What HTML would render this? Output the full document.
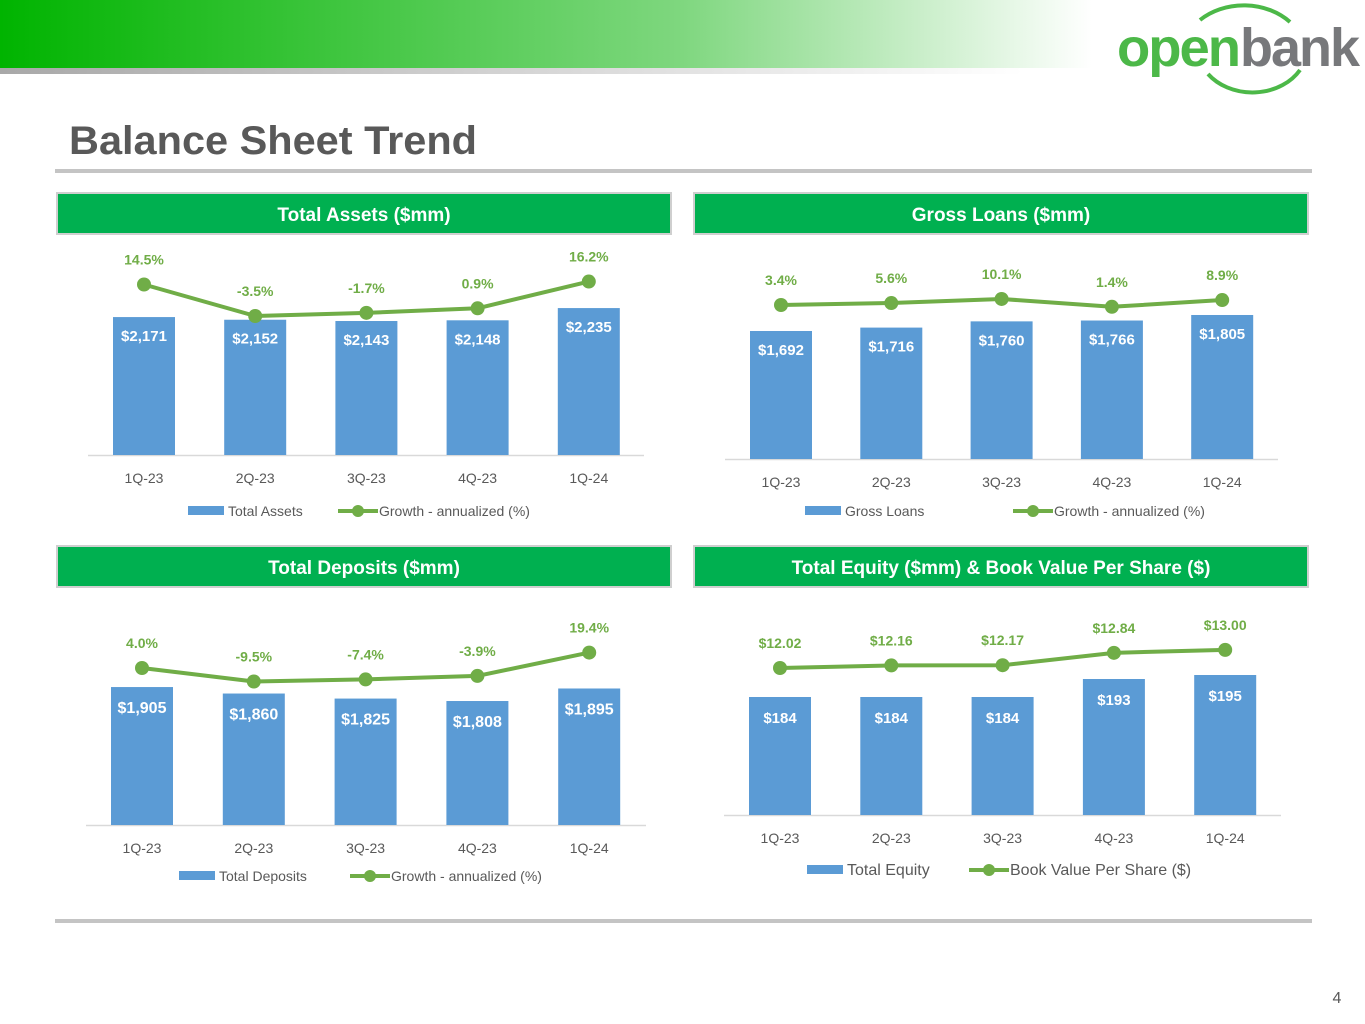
<!DOCTYPE html>
<html><head><meta charset="utf-8"><style>
html,body{margin:0;padding:0;background:#fff;}
body{width:1365px;height:1024px;overflow:hidden;position:relative;font-family:"Liberation Sans",sans-serif;}
svg{position:absolute;left:0;top:0;}
</style></head><body>
<svg id="page" width="1365" height="1024" viewBox="0 0 1365 1024" xmlns="http://www.w3.org/2000/svg">
<defs>
<linearGradient id="hdr" x1="0" x2="1" y1="0" y2="0">
<stop offset="0" stop-color="#00b400"/><stop offset="0.5" stop-color="#7fd77f"/><stop offset="0.8" stop-color="#ffffff"/>
</linearGradient>
<linearGradient id="shadow" x1="0" x2="1" y1="0" y2="0">
<stop offset="0" stop-color="#a8a8a8"/><stop offset="0.75" stop-color="#ffffff"/>
</linearGradient>
</defs>
<rect x="0" y="0" width="1365" height="68" fill="url(#hdr)"/>
<rect x="0" y="68" width="1365" height="6" fill="url(#shadow)"/>
<g>
<path d="M1200 20 A62 50 0 0 1 1290 22" fill="none" stroke="#4cb848" stroke-width="4"/>
<path d="M1208 74 A55 45 0 0 0 1300 70" fill="none" stroke="#4cb848" stroke-width="4"/>
<text x="1117" y="66" font-size="54" font-weight="bold" fill="#4cb848" letter-spacing="-2" textLength="122" lengthAdjust="spacingAndGlyphs">open</text>
<text x="1240" y="66" font-size="54" font-weight="bold" fill="#77787b" letter-spacing="-2" textLength="118" lengthAdjust="spacingAndGlyphs">bank</text>
</g>
<text x="69" y="154" font-size="40" font-weight="bold" fill="#595959" textLength="408" lengthAdjust="spacingAndGlyphs">Balance Sheet Trend</text>
<rect x="55" y="169" width="1257" height="4" fill="#c4c4c4"/>
<rect x="55" y="919" width="1257" height="4" fill="#c4c4c4"/>
<text x="1337" y="1003" font-size="16" fill="#595959" text-anchor="middle">4</text>

<g><rect x="57" y="193" width="614" height="41" fill="#00b050" stroke="#cfcfcf" stroke-width="2"/><text x="364" y="221" font-size="19" font-weight="bold" fill="#fff" text-anchor="middle">Total Assets ($mm)</text></g>
<g><rect x="694" y="193" width="614" height="41" fill="#00b050" stroke="#cfcfcf" stroke-width="2"/><text x="1001" y="221" font-size="19" font-weight="bold" fill="#fff" text-anchor="middle">Gross Loans ($mm)</text></g>
<g><rect x="57" y="546" width="614" height="41" fill="#00b050" stroke="#cfcfcf" stroke-width="2"/><text x="364" y="574" font-size="19" font-weight="bold" fill="#fff" text-anchor="middle">Total Deposits ($mm)</text></g>
<g><rect x="694" y="546" width="614" height="41" fill="#00b050" stroke="#cfcfcf" stroke-width="2"/><text x="1001" y="574" font-size="19" font-weight="bold" fill="#fff" text-anchor="middle">Total Equity ($mm) &amp; Book Value Per Share ($)</text></g>
</svg>
<script>
const categories = ["1Q-23","2Q-23","3Q-23","4Q-23","1Q-24"];
const assetsValues = [2171,2152,2143,2148,2235];
const assetsGrowth = [14.5,-3.5,-1.7,0.9,16.2];
const loansValues = [1692,1716,1760,1766,1805];
const loansGrowth = [3.4,5.6,10.1,1.4,8.9];
const depositsValues = [1905,1860,1825,1808,1895];
const depositsGrowth = [4.0,-9.5,-7.4,-3.9,19.4];
const equityValues = [184,184,184,193,195];
const bookValues = [12.02,12.16,12.17,12.84,13.00];

const NS = "http://www.w3.org/2000/svg";
const svg = document.getElementById('page');
function mk(tag, attrs, parent){const e=document.createElementNS(NS,tag);for(const k in attrs)e.setAttribute(k,attrs[k]);(parent||svg).appendChild(e);return e;}
function fmtMoney(v){return '$'+v.toLocaleString('en-US');}

function drawChart(cfg){
  const g = mk('g',{});
  
  
  const xs = i => cfg.x0 + i*cfg.step;
  const yb = v => cfg.base - (v - cfg.barMin)*cfg.barK;
  const yl = v => cfg.lineRefY - (v - cfg.lineRef)*cfg.lineK;
  const ax = mk('line',{x1:cfg.axX1,x2:cfg.axX2,y1:cfg.base+0.5,y2:cfg.base+0.5,stroke:'#d9d9d9','stroke-width':1.5},g);
  
  
  cfg.bars.forEach((v,i)=>{
    const y = yb(v);
    const r = mk('rect',{x:xs(i)-31,y:y,width:62,height:cfg.base-y,fill:'#5b9bd5'},g);
    
    
    const t = mk('text',{x:xs(i),y:y+cfg.barLabelOff,'font-size':cfg.barFont,'font-weight':'bold',fill:'#fff','text-anchor':'middle'},g);
    t.textContent = fmtMoney(v);
    
    
    const c = mk('text',{x:xs(i),y:cfg.base+28,'font-size':14,fill:'#595959','text-anchor':'middle'},g);
    c.textContent = categories[i];
    
    
  });
  const pts = cfg.line.map((v,i)=>xs(i)+','+yl(v)).join(' ');
  const pl = mk('polyline',{points:pts,fill:'none',stroke:'#70ad47','stroke-width':4,'stroke-linejoin':'round'},g);
  
  
  cfg.line.forEach((v,i)=>{
    const c = mk('circle',{cx:xs(i),cy:yl(v),r:7,fill:'#70ad47'},g);
    
    
    const t = mk('text',{x:xs(i),y:yl(v)-20,'font-size':14,'font-weight':'bold',fill:'#70ad47','text-anchor':'middle'},g);
    t.textContent = cfg.lineFmt(v);
    
    
  });
  const L = cfg.legend;
  const lg = mk('g',{},g);
  
  
  mk('rect',{x:L.x1,y:L.y-5,width:36,height:9,fill:'#5b9bd5'},lg);
  const t1 = mk('text',{x:L.x1+40,y:L.y+5,'font-size':L.fs,fill:'#595959'},lg); t1.textContent = L.t1;
  mk('line',{x1:L.x2,x2:L.x2+40,y1:L.y,y2:L.y,stroke:'#70ad47','stroke-width':4},lg);
  mk('circle',{cx:L.x2+20,cy:L.y,r:6,fill:'#70ad47'},lg);
  const t2 = mk('text',{x:L.x2+41,y:L.y+5,'font-size':L.fs,fill:'#595959'},lg); t2.textContent = L.t2;
}
const pct = v => v.toFixed(1)+'%';
drawChart({name:'total-assets-chart',bars:assetsValues,line:assetsGrowth,x0:144,step:111.2,base:455,barMin:1190,barK:0.1406,lineRef:-3.5,lineRefY:316,lineK:1.75,axX1:88,axX2:644,barLabelOff:24,barFont:15,lineFmt:pct,
  legend:{x1:188,x2:338,y:511,fs:14,t1:'Total Assets',t2:'Growth - annualized (%)'}});
drawChart({name:'gross-loans-chart',bars:loansValues,line:loansGrowth,x0:781,step:110.3,base:459,barMin:788,barK:0.1416,lineRef:3.4,lineRefY:305,lineK:0.9,axX1:725,axX2:1278,barLabelOff:24,barFont:15,lineFmt:pct,
  legend:{x1:805,x2:1013,y:511,fs:14,t1:'Gross Loans',t2:'Growth - annualized (%)'}});
drawChart({name:'total-deposits-chart',bars:depositsValues,line:depositsGrowth,x0:142,step:111.8,base:825,barMin:947,barK:0.144,lineRef:4.0,lineRefY:668,lineK:1.0,axX1:86,axX2:646,barLabelOff:26,barFont:16,lineFmt:pct,
  legend:{x1:179,x2:350,y:876,fs:14,t1:'Total Deposits',t2:'Growth - annualized (%)'}});
drawChart({name:'total-equity-chart',bars:equityValues,line:bookValues,x0:780,step:111.3,base:815,barMin:125,barK:2,lineRef:12.02,lineRefY:668,lineK:18.5,axX1:724,axX2:1281,barLabelOff:26,barFont:15,lineFmt:v=>'$'+v.toFixed(2),
  legend:{x1:807,x2:969,y:870,fs:16,t1:'Total Equity',t2:'Book Value Per Share ($)'}});
</script>
</body></html>
